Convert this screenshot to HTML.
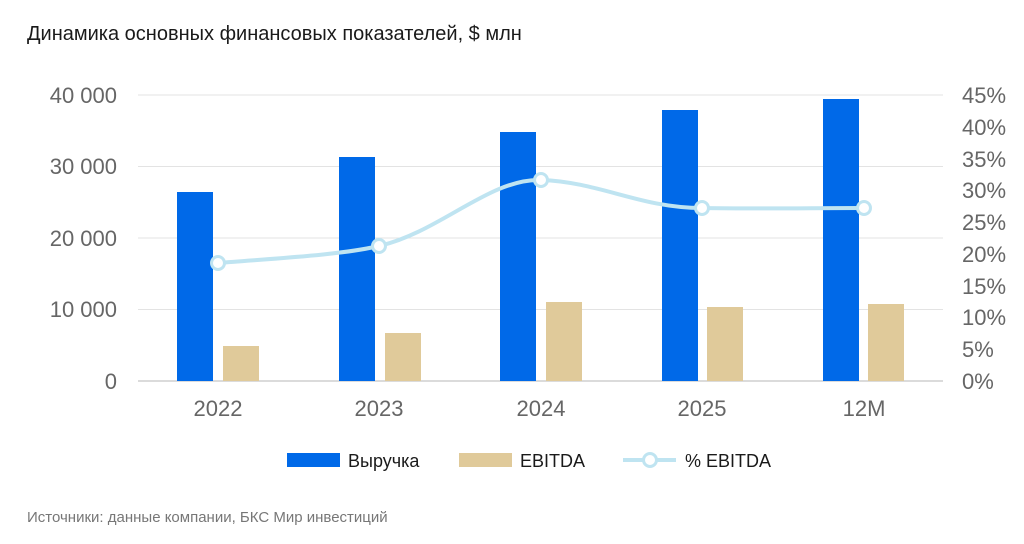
<!DOCTYPE html>
<html><head><meta charset="utf-8"><style>
body{margin:0;background:#fff;width:1024px;height:539px;overflow:hidden}
text{font-family:"Liberation Sans",sans-serif}
</style></head><body>
<svg width="1024" height="539" viewBox="0 0 1024 539" xmlns="http://www.w3.org/2000/svg">
<text x="27" y="40" font-size="20" fill="#1a1a1a">Динамика основных финансовых показателей, $ млн</text>
<g stroke="#e3e3e3" stroke-width="1">
<line x1="138" y1="95" x2="943" y2="95"/><line x1="138" y1="166.5" x2="943" y2="166.5"/>
<line x1="138" y1="238" x2="943" y2="238"/><line x1="138" y1="309.5" x2="943" y2="309.5"/>
</g>
<line x1="138" y1="381" x2="943" y2="381" stroke="#cfcfcf" stroke-width="1.5"/>
<g font-size="22" fill="#666" text-anchor="end">
<text x="117" y="103">40 000</text><text x="117" y="174">30 000</text><text x="117" y="246">20 000</text><text x="117" y="317">10 000</text><text x="117" y="389">0</text>
</g>
<g font-size="22" fill="#666">
<text x="962" y="103">45%</text><text x="962" y="135">40%</text><text x="962" y="167">35%</text><text x="962" y="198">30%</text><text x="962" y="230">25%</text><text x="962" y="262">20%</text><text x="962" y="294">15%</text><text x="962" y="325">10%</text><text x="962" y="357">5%</text><text x="962" y="389">0%</text>
</g>
<g fill="#0069e8">
<rect x="177" y="192" width="36" height="189"/><rect x="339" y="157" width="36" height="224"/><rect x="500" y="132" width="36" height="249"/><rect x="662" y="110" width="36" height="271"/><rect x="823" y="99" width="36" height="282"/>
</g>
<g fill="#e0ca9a">
<rect x="223" y="346" width="36" height="35"/><rect x="385" y="333" width="36" height="48"/><rect x="546" y="302" width="36" height="79"/><rect x="707" y="307" width="36" height="74"/><rect x="868" y="304" width="36" height="77"/>
</g>
<path d="M218,263 C280,258 340,255 379,246 C440,232 490,178 541,180 C600,182 640,208 702,208 C760,209 810,208 864,208" fill="none" stroke="#bfe4f1" stroke-width="4"/>
<g fill="#fff" stroke="#bfe4f1" stroke-width="3">
<circle cx="218" cy="263" r="6.5"/><circle cx="379" cy="246" r="6.5"/><circle cx="541" cy="180" r="6.5"/><circle cx="702" cy="208" r="6.5"/><circle cx="864" cy="208" r="6.5"/>
</g>
<g font-size="22" fill="#666" text-anchor="middle">
<text x="218" y="416">2022</text><text x="379" y="416">2023</text><text x="541" y="416">2024</text><text x="702" y="416">2025</text><text x="864" y="416">12M</text>
</g>
<rect x="287" y="453" width="53" height="14" fill="#0069e8"/>
<text x="348" y="467" font-size="18" fill="#1a1a1a">Выручка</text>
<rect x="459" y="453" width="53" height="14" fill="#e0ca9a"/>
<text x="520" y="467" font-size="18" fill="#1a1a1a">EBITDA</text>
<line x1="623" y1="460" x2="676" y2="460" stroke="#bfe4f1" stroke-width="4"/>
<circle cx="650" cy="460" r="6.5" fill="#fff" stroke="#bfe4f1" stroke-width="3"/>
<text x="685" y="467" font-size="18" fill="#1a1a1a">% EBITDA</text>
<text x="27" y="522" font-size="15" fill="#777">Источники: данные компании, БКС Мир инвестиций</text>
</svg>
</body></html>
